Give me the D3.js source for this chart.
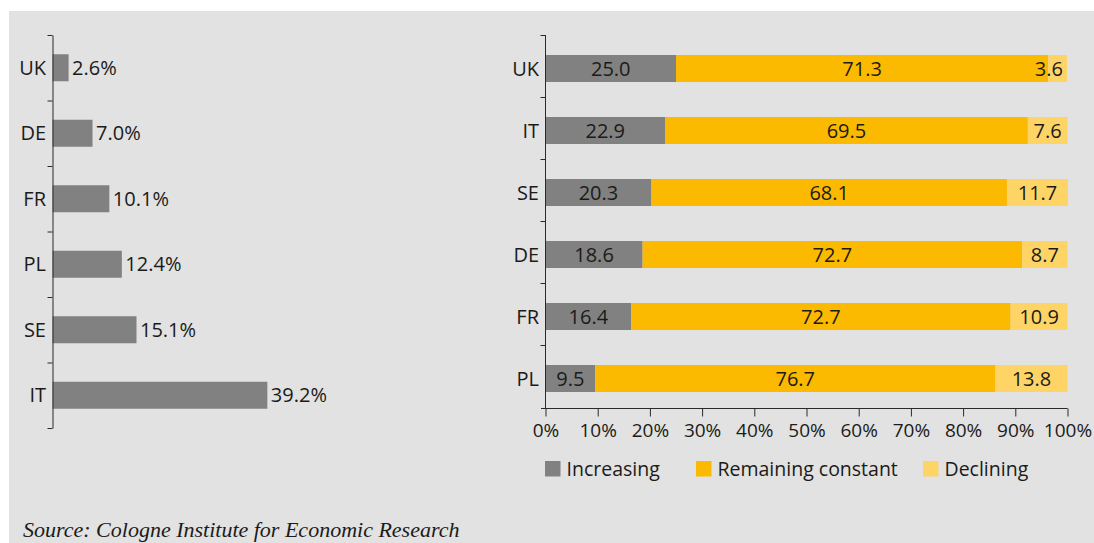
<!DOCTYPE html>
<html>
<head>
<meta charset="utf-8">
<script src="https://cdn.jsdelivr.net/npm/d3@7"></script>
<style>
  html, body { margin: 0; padding: 0; background: #ffffff; }
  svg { display: block; }
  text { font-family: "Open Sans", "Noto Sans", sans-serif; fill: #1b1b19; }
  text.note { font-family: "Liberation Serif", "DejaVu Serif", serif; font-style: italic; }
</style>
</head>
<body>
<svg id="chart" width="1094" height="543"></svg>
<script>
// Share of companies expecting insolvencies (left panel)
const shareCountries = ["UK", "DE", "FR", "PL", "SE", "IT"];
const shareValues = [2.6, 7.0, 10.1, 12.4, 15.1, 39.2];

// Outlook breakdown by country (right panel), in percent
const outlookCountries = ["UK", "IT", "SE", "DE", "FR", "PL"];
const increasing = [25.0, 22.9, 20.3, 18.6, 16.4, 9.5];
const remainingConstant = [71.3, 69.5, 68.1, 72.7, 72.7, 76.7];
const declining = [3.6, 7.6, 11.7, 8.7, 10.9, 13.8];

const seriesNames = ["Increasing", "Remaining constant", "Declining"];
const seriesColors = ["#818181", "#fbb900", "#fed467"];
const percentTicks = [0, 10, 20, 30, 40, 50, 60, 70, 80, 90, 100];
const sourceNote = "Source: Cologne Institute for Economic Research";

const svg = d3.select("#chart");
const axisColor = "#2a2a2a";
const barH = 27;
const fontSize = 20;

// panel background
svg.append("rect")
  .attr("x", 9).attr("y", 11)
  .attr("width", 1094 - 9).attr("height", 543 - 11)
  .attr("fill", "#e1e2e1");

// ---------- left panel ----------
const leftAxisX = 52.5;
const leftY = d3.scaleBand().domain(shareCountries).range([35, 428]);
const leftX = d3.scaleLinear().domain([0, 40]).range([54.5, 54.5 + 217.2]);

const left = svg.append("g");

left.selectAll("rect.bar")
  .data(shareCountries)
  .join("rect")
  .attr("class", "bar")
  .attr("x", leftAxisX)
  .attr("y", d => leftY(d) + (leftY.bandwidth() - barH) / 2)
  .attr("width", (d, i) => leftX(shareValues[i]) - leftAxisX)
  .attr("height", barH)
  .attr("fill", seriesColors[0]);

left.selectAll("text.val")
  .data(shareCountries)
  .join("text")
  .attr("class", "val")
  .attr("x", (d, i) => leftX(shareValues[i]) + 3.5)
  .attr("y", d => leftY(d) + leftY.bandwidth() / 2)
  .attr("dy", "0.35em")
  .attr("font-size", fontSize)
  .text((d, i) => d3.format(".1f")(shareValues[i]) + "%");

// boundary ticks of the category axis
const leftTickScale = d3.scaleLinear()
  .domain([0, shareCountries.length]).range(leftY.range());
const leftAxis = left.append("g")
  .attr("transform", `translate(${leftAxisX},0)`)
  .call(d3.axisLeft(leftTickScale)
    .tickValues(d3.range(shareCountries.length + 1))
    .tickFormat("")
    .tickSize(5)
    .tickSizeOuter(0));
leftAxis.selectAll("line, path").attr("stroke", axisColor);

left.selectAll("text.cat")
  .data(shareCountries)
  .join("text")
  .attr("class", "cat")
  .attr("x", leftAxisX - 6.5)
  .attr("y", d => leftY(d) + leftY.bandwidth() / 2)
  .attr("dy", "0.35em")
  .attr("text-anchor", "end")
  .attr("font-size", fontSize)
  .text(d => d);

// ---------- right panel ----------
const rightAxisX = 545.5;
const rightY = d3.scaleBand().domain(outlookCountries).range([35, 407]);
const rightX = d3.scaleLinear().domain([0, 100]).range([rightAxisX, 1067.5]);
const barOffset = 20;

const rows = outlookCountries.map((c, i) => ({
  country: c,
  Increasing: increasing[i],
  "Remaining constant": remainingConstant[i],
  Declining: declining[i]
}));
const stacked = d3.stack().keys(seriesNames)(rows);

const right = svg.append("g");

const layers = right.selectAll("g.layer")
  .data(stacked)
  .join("g")
  .attr("class", "layer")
  .attr("fill", (d, i) => seriesColors[i]);

layers.selectAll("rect")
  .data(d => d)
  .join("rect")
  .attr("x", d => rightX(d[0]))
  .attr("y", d => rightY(d.data.country) + barOffset)
  .attr("width", d => rightX(d[1]) - rightX(d[0]))
  .attr("height", barH);

// segment values, centred; a segment too narrow for its label keeps it inside the bar end
const labelLayer = right.append("g");
stacked.forEach(layer => {
  layer.forEach(d => {
    const x0 = rightX(d[0]), x1 = rightX(d[1]);
    const t = labelLayer.append("text")
      .attr("y", rightY(d.data.country) + barOffset + barH / 2)
      .attr("dy", "0.35em")
      .attr("font-size", fontSize)
      .text(d3.format(".1f")(d.data[layer.key]));
    const w = t.node().getComputedTextLength();
    if (w + 8 > x1 - x0) {
      t.attr("x", x1 - 4).attr("text-anchor", "end");
    } else {
      t.attr("x", (x0 + x1) / 2).attr("text-anchor", "middle");
    }
  });
});

// category axis with boundary ticks
const rightTickScale = d3.scaleLinear()
  .domain([0, outlookCountries.length]).range(rightY.range());
const rightAxis = right.append("g")
  .attr("transform", `translate(${rightAxisX},0)`)
  .call(d3.axisLeft(rightTickScale)
    .tickValues(d3.range(outlookCountries.length))
    .tickFormat("")
    .tickSize(5)
    .tickSizeOuter(0));
rightAxis.select(".domain").remove();
rightAxis.selectAll("line").attr("stroke", axisColor);

const baseY = 408.5;
right.append("line")
  .attr("x1", rightAxisX).attr("x2", rightAxisX)
  .attr("y1", 35).attr("y2", baseY)
  .attr("stroke", axisColor);

right.selectAll("text.cat")
  .data(outlookCountries)
  .join("text")
  .attr("class", "cat")
  .attr("x", rightAxisX - 6.5)
  .attr("y", d => rightY(d) + barOffset + barH / 2)
  .attr("dy", "0.35em")
  .attr("text-anchor", "end")
  .attr("font-size", fontSize)
  .text(d => d);

// percentage axis
const xAxis = right.append("g")
  .attr("transform", `translate(0,${baseY})`)
  .call(d3.axisBottom(rightX)
    .tickValues(percentTicks)
    .tickFormat(d => d + "%")
    .tickSize(8)
    .tickPadding(7)
    .tickSizeOuter(0));
xAxis.select(".domain").remove();
xAxis.selectAll("line").attr("stroke", axisColor);
xAxis.selectAll("text").attr("font-size", 19);
right.append("line")
  .attr("x1", rightAxisX - 4.5).attr("x2", rightX(100))
  .attr("y1", baseY).attr("y2", baseY)
  .attr("stroke", axisColor);

// legend
const legendX = [545, 696, 923];
const legend = right.selectAll("g.legend")
  .data(seriesNames)
  .join("g")
  .attr("class", "legend")
  .attr("transform", (d, i) => `translate(${legendX[i]},461)`);
legend.append("rect")
  .attr("width", 15.5).attr("height", 15.5)
  .attr("fill", (d, i) => seriesColors[i]);
legend.append("text")
  .attr("x", 21.5)
  .attr("y", 15.3)
  .attr("font-size", 19.5)
  .text(d => d);

// source note
svg.append("text")
  .attr("class", "note")
  .attr("x", 23)
  .attr("y", 537)
  .attr("font-size", 22)
  .text(sourceNote);
</script>
</body>
</html>
